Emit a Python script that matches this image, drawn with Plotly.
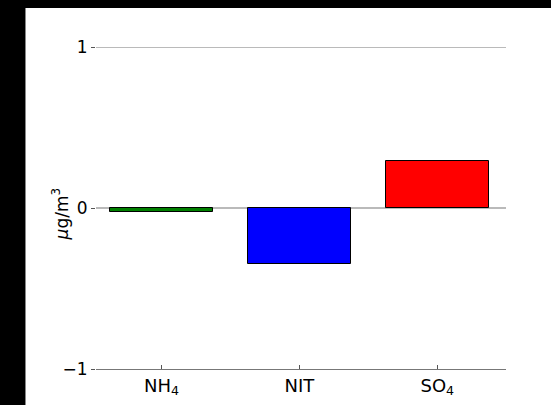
import plotly.graph_objects as go

categories = ["NH<sub>4</sub>", "NIT", "SO<sub>4</sub>"]
positions = [0, 1, 2]
values = [-0.025, -0.35, 0.295]
colors = ["#008000", "#0000ff", "#ff0000"]
y_ticks = [-1, 0, 1]
y_ticktext = ["−1", "0", "1"]

W, H = 551, 405
L, R, T, B = 95.6, 45, 47, 36
pw, ph = W - L - R, H - T - B

def px_to_paper_x(px):
    return (px - L) / pw

def px_to_paper_y(py):
    return (H - B - py) / ph

fig = go.Figure()
fig.add_trace(go.Bar(
    x=positions, y=values, width=0.75,
    marker=dict(color=colors, line=dict(color="black", width=1)),
    showlegend=False,
))

fig.add_shape(type="rect", xref="paper", yref="paper",
              x0=px_to_paper_x(-5), x1=px_to_paper_x(25),
              y0=px_to_paper_y(-5), y1=px_to_paper_y(H + 5),
              fillcolor="black", line=dict(width=0), layer="below")
fig.add_shape(type="rect", xref="paper", yref="paper",
              x0=px_to_paper_x(-5), x1=px_to_paper_x(W + 5),
              y0=px_to_paper_y(-5), y1=px_to_paper_y(8),
              fillcolor="black", line=dict(width=0), layer="below")
for yv in [1, 0]:
    fig.add_shape(type="line", xref="paper", yref="y", x0=0, x1=1, y0=yv, y1=yv,
                  line=dict(color="#777777", width=1.2), layer="below")

fig.add_annotation(text="<i>μ</i>g/m<sup>3</sup>", xref="paper", yref="paper",
                   x=px_to_paper_x(60), y=px_to_paper_y(214), textangle=-90,
                   showarrow=False, xanchor="center", yanchor="middle",
                   font=dict(family="DejaVu Sans", size=17, color="black"))

fig.update_layout(
    width=W, height=H, autosize=False,
    margin=dict(l=L, r=R, t=T, b=B, pad=0, autoexpand=False),
    paper_bgcolor="white", plot_bgcolor="white",
    font=dict(family="DejaVu Sans", size=17, color="black"),
    bargap=0,
)
fig.update_xaxes(range=[-0.476, 2.498], tickmode="array", tickvals=positions,
                 ticktext=categories, ticks="inside", ticklen=4, tickcolor="#555555",
                 showline=True, linecolor="#777777", linewidth=1.2, showgrid=False,
                 zeroline=False, tickfont=dict(size=18))
fig.update_yaxes(range=[-1, 1], tickmode="array", tickvals=y_ticks, ticktext=y_ticktext,
                 ticks="outside", ticklen=4, tickcolor="#555555", showline=False,
                 showgrid=False, zeroline=False, tickfont=dict(size=17))

fig.write_html("out.html", config={"responsive": False},
               post_script="document.body.style.margin='0';document.body.style.background='white';")
